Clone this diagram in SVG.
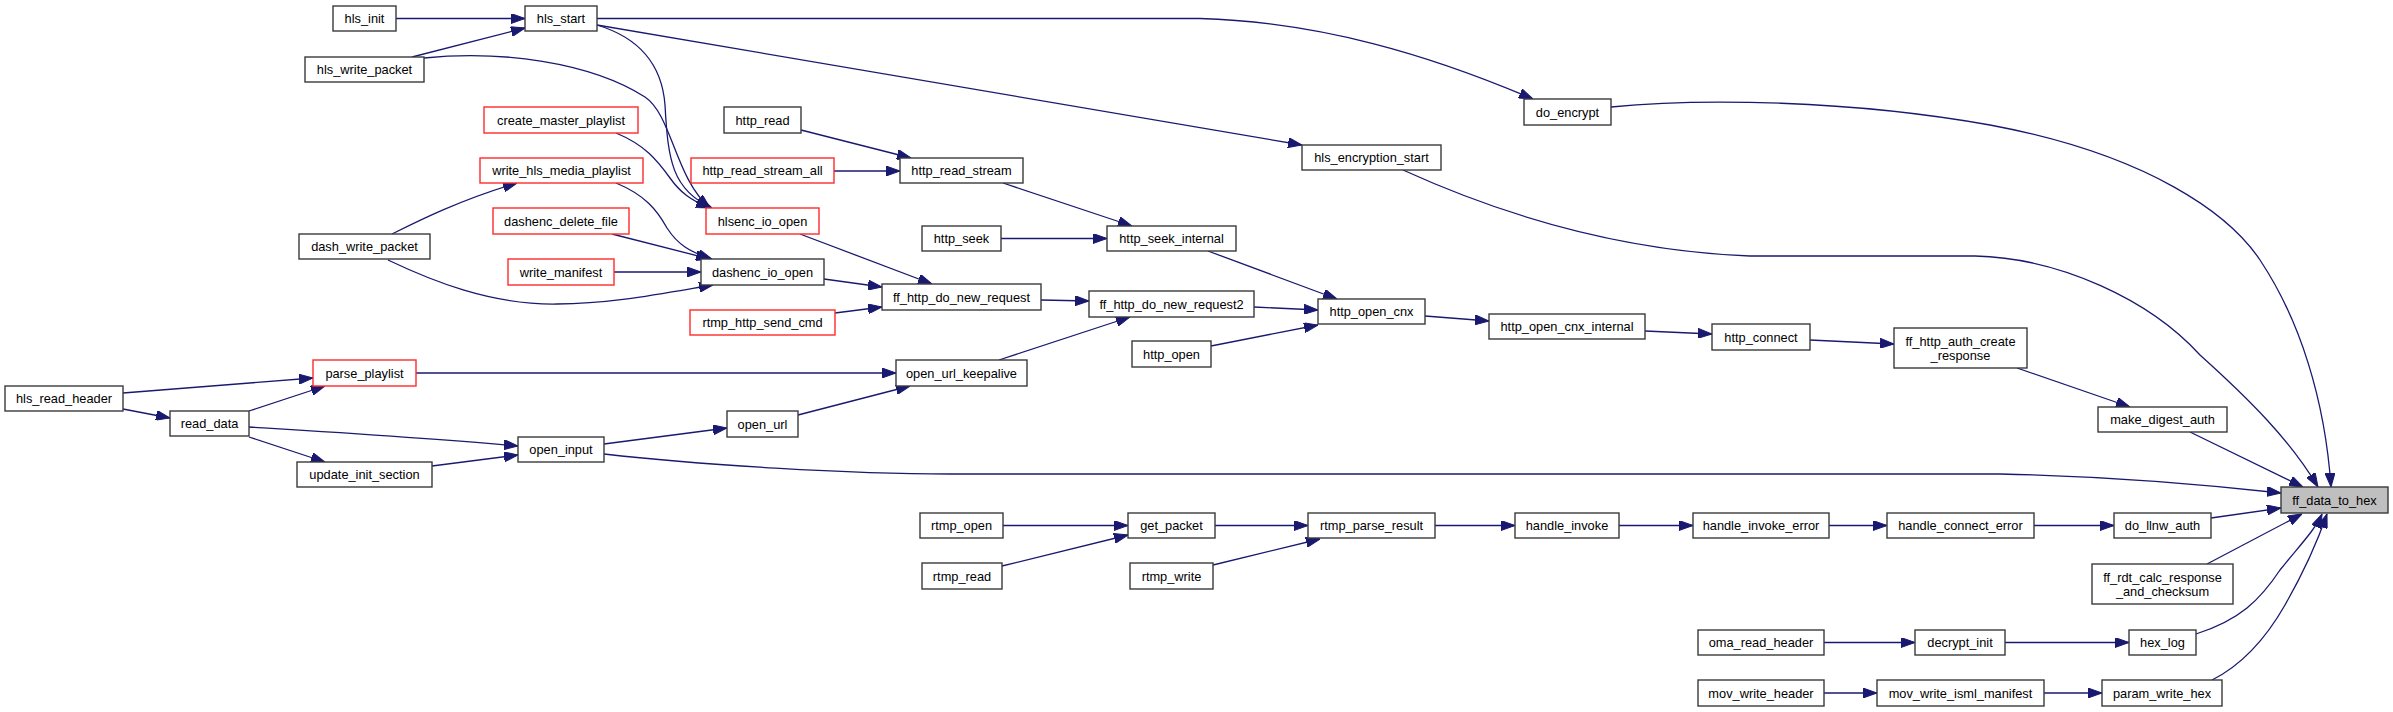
<svg xmlns="http://www.w3.org/2000/svg" width="2393" height="712" viewBox="0 0 2393 712">
<style>
.n rect{fill:#ffffff;stroke:#3a3a3a;stroke-width:1.4}
.r rect{stroke:#ff2a2a}
.g rect{fill:#bfbfbf}
.n text{font-family:"Liberation Sans",Arial,sans-serif;font-size:12.8px;fill:#000;text-anchor:middle}
#edges path{fill:none;stroke:#191970;stroke-width:1.3;marker-end:url(#ah)}
</style>
<defs>
<marker id="ah" markerUnits="userSpaceOnUse" markerWidth="14" markerHeight="10" refX="14" refY="5" orient="auto">
<path d="M0,0 L14,5 L0,10 z" fill="#191970" stroke="#191970" stroke-width="1"/>
</marker>
</defs>
<rect x="0" y="0" width="2393" height="712" fill="#ffffff"/>
<g id="edges">
<path d="M396,18.5 L525,18.5"/>
<path d="M412,57 L525,28"/>
<path d="M424,58 C500,50 590,62 645,97 C672,115 675,178 710,208"/>
<path d="M597,25 C640,38 662,65 665,105 C668,160 672,190 712,208"/>
<path d="M597,18.5 L1200,18.5 C1320,22 1430,55 1533,99"/>
<path d="M597,25 L1302,145"/>
<path d="M616,133 C645,145 657,160 670,178 C680,192 690,200 710,208"/>
<path d="M392,234 C420,220 460,200 517,183"/>
<path d="M616,183 C645,195 657,210 667,228 C678,245 690,252 712,259"/>
<path d="M612,234 L710,259"/>
<path d="M614,272 L701,272"/>
<path d="M388,260 C430,280 490,305 557,304 C610,304 660,294 713,285"/>
<path d="M801,130 L911,158"/>
<path d="M834,171 L900,171"/>
<path d="M1003,183 L1132,226"/>
<path d="M1001,238.5 L1107,238.5"/>
<path d="M800,234 L932,284"/>
<path d="M824,279 L882,287"/>
<path d="M835,313 L882,307"/>
<path d="M1041,300 L1089,301"/>
<path d="M999,360 L1130,317"/>
<path d="M1208,251 L1337,299"/>
<path d="M1254,307 L1318,310"/>
<path d="M1211,346 L1318,325"/>
<path d="M1425,316 L1489,321"/>
<path d="M1645,331 L1712,334"/>
<path d="M1810,340 L1894,344"/>
<path d="M2017,368 L2130,407"/>
<path d="M2190,432 L2303,487"/>
<path d="M1611,107 C1700,98 1850,100 1990,125 C2150,155 2230,215 2260,260 C2300,320 2325,400 2331,487"/>
<path d="M1403,170 C1480,205 1600,250 1750,256 L1975,256 C2060,258 2150,300 2200,355 C2250,400 2290,440 2318,487"/>
<path d="M604,454 C700,465 850,474 950,474 L2000,474 C2100,476 2200,484 2281,493"/>
<path d="M2211,518 L2281,508"/>
<path d="M2207,564 L2302,514"/>
<path d="M2196,634 C2240,620 2260,600 2280,570 C2300,545 2315,530 2322,514"/>
<path d="M2212,680 C2240,666 2265,640 2285,605 C2305,570 2318,540 2327,514"/>
<path d="M2034,525.5 L2114,525.5"/>
<path d="M1829,525.5 L1887,525.5"/>
<path d="M1619,525.5 L1693,525.5"/>
<path d="M1435,525.5 L1515,525.5"/>
<path d="M1215,525.5 L1308,525.5"/>
<path d="M1213,565 L1320,539"/>
<path d="M1003,525.5 L1128,525.5"/>
<path d="M1002,566 L1128,535"/>
<path d="M2005,642.5 L2129,642.5"/>
<path d="M1824,642.5 L1915,642.5"/>
<path d="M2044,693 L2102,693"/>
<path d="M1824,693 L1877,693"/>
<path d="M123,393 L313,378"/>
<path d="M123,409 L170,418"/>
<path d="M249,411 L325,386"/>
<path d="M249,427 C330,432 430,438 518,446"/>
<path d="M249,437 L325,462"/>
<path d="M432,466 L518,455"/>
<path d="M416,373 L896,373"/>
<path d="M604,444 L727,428"/>
<path d="M798,415 L910,386"/>
</g>
<g id="hls_init" class="n"><rect x="333" y="6" width="63" height="25"/><text x="364.5" y="23">hls_init</text></g>
<g id="hls_start" class="n"><rect x="525" y="6" width="72" height="25"/><text x="561" y="23">hls_start</text></g>
<g id="hls_write_packet" class="n"><rect x="305" y="57" width="119" height="25"/><text x="364.5" y="74">hls_write_packet</text></g>
<g id="dash_write_packet" class="n"><rect x="299" y="234" width="131" height="25"/><text x="364.5" y="251">dash_write_packet</text></g>
<g id="hls_read_header" class="n"><rect x="5" y="386" width="118" height="25"/><text x="64" y="403">hls_read_header</text></g>
<g id="read_data" class="n"><rect x="170" y="411" width="79" height="25"/><text x="209.5" y="428">read_data</text></g>
<g id="parse_playlist" class="n r"><rect x="313" y="360" width="103" height="26"/><text x="364.5" y="377.5">parse_playlist</text></g>
<g id="update_init_section" class="n"><rect x="297" y="462" width="135" height="25"/><text x="364.5" y="479">update_init_section</text></g>
<g id="create_master_playlist" class="n r"><rect x="484" y="107" width="154" height="26"/><text x="561" y="124.5">create_master_playlist</text></g>
<g id="write_hls_media_playlist" class="n r"><rect x="480" y="158" width="163" height="25"/><text x="561.5" y="175">write_hls_media_playlist</text></g>
<g id="dashenc_delete_file" class="n r"><rect x="493" y="208" width="136" height="26"/><text x="561" y="225.5">dashenc_delete_file</text></g>
<g id="write_manifest" class="n r"><rect x="508" y="259" width="106" height="26"/><text x="561" y="276.5">write_manifest</text></g>
<g id="open_input" class="n"><rect x="518" y="437" width="86" height="25"/><text x="561" y="454">open_input</text></g>
<g id="http_read" class="n"><rect x="724" y="107" width="77" height="26"/><text x="762.5" y="124.5">http_read</text></g>
<g id="http_read_stream_all" class="n r"><rect x="691" y="158" width="143" height="25"/><text x="762.5" y="175">http_read_stream_all</text></g>
<g id="hlsenc_io_open" class="n r"><rect x="706" y="208" width="113" height="26"/><text x="762.5" y="225.5">hlsenc_io_open</text></g>
<g id="dashenc_io_open" class="n"><rect x="701" y="259" width="123" height="26"/><text x="762.5" y="276.5">dashenc_io_open</text></g>
<g id="rtmp_http_send_cmd" class="n r"><rect x="690" y="310" width="145" height="25"/><text x="762.5" y="327">rtmp_http_send_cmd</text></g>
<g id="open_url" class="n"><rect x="727" y="411" width="71" height="26"/><text x="762.5" y="428.5">open_url</text></g>
<g id="http_read_stream" class="n"><rect x="900" y="158" width="123" height="25"/><text x="961.5" y="175">http_read_stream</text></g>
<g id="http_seek" class="n"><rect x="922" y="226" width="79" height="25"/><text x="961.5" y="243">http_seek</text></g>
<g id="http_seek_internal" class="n"><rect x="1107" y="226" width="129" height="25"/><text x="1171.5" y="243">http_seek_internal</text></g>
<g id="ff_http_do_new_request" class="n"><rect x="882" y="284" width="159" height="26"/><text x="961.5" y="301.5">ff_http_do_new_request</text></g>
<g id="ff_http_do_new_request2" class="n"><rect x="1089" y="291" width="165" height="26"/><text x="1171.5" y="308.5">ff_http_do_new_request2</text></g>
<g id="http_open" class="n"><rect x="1132" y="341" width="79" height="26"/><text x="1171.5" y="358.5">http_open</text></g>
<g id="open_url_keepalive" class="n"><rect x="896" y="360" width="131" height="26"/><text x="961.5" y="377.5">open_url_keepalive</text></g>
<g id="rtmp_open" class="n"><rect x="920" y="513" width="83" height="25"/><text x="961.5" y="530">rtmp_open</text></g>
<g id="rtmp_read" class="n"><rect x="922" y="563" width="80" height="26"/><text x="962" y="580.5">rtmp_read</text></g>
<g id="get_packet" class="n"><rect x="1128" y="513" width="87" height="25"/><text x="1171.5" y="530">get_packet</text></g>
<g id="rtmp_write" class="n"><rect x="1130" y="563" width="83" height="26"/><text x="1171.5" y="580.5">rtmp_write</text></g>
<g id="do_encrypt" class="n"><rect x="1524" y="99" width="87" height="26"/><text x="1567.5" y="116.5">do_encrypt</text></g>
<g id="hls_encryption_start" class="n"><rect x="1302" y="145" width="139" height="25"/><text x="1371.5" y="162">hls_encryption_start</text></g>
<g id="http_open_cnx" class="n"><rect x="1318" y="299" width="107" height="25"/><text x="1371.5" y="316">http_open_cnx</text></g>
<g id="http_open_cnx_internal" class="n"><rect x="1489" y="314" width="156" height="25"/><text x="1567" y="331">http_open_cnx_internal</text></g>
<g id="rtmp_parse_result" class="n"><rect x="1308" y="513" width="127" height="25"/><text x="1371.5" y="530">rtmp_parse_result</text></g>
<g id="handle_invoke" class="n"><rect x="1515" y="513" width="104" height="25"/><text x="1567" y="530">handle_invoke</text></g>
<g id="http_connect" class="n"><rect x="1712" y="324" width="98" height="26"/><text x="1761" y="341.5">http_connect</text></g>
<g id="ff_http_auth_create_response" class="n"><rect x="1894" y="328" width="133" height="40"/><text x="1960.5" y="345.5">ff_http_auth_create</text><text x="1960.5" y="359.5">_response</text></g>
<g id="handle_invoke_error" class="n"><rect x="1693" y="513" width="136" height="25"/><text x="1761" y="530">handle_invoke_error</text></g>
<g id="handle_connect_error" class="n"><rect x="1887" y="513" width="147" height="25"/><text x="1960.5" y="530">handle_connect_error</text></g>
<g id="oma_read_header" class="n"><rect x="1698" y="630" width="126" height="25"/><text x="1761" y="647">oma_read_header</text></g>
<g id="decrypt_init" class="n"><rect x="1915" y="630" width="90" height="25"/><text x="1960" y="647">decrypt_init</text></g>
<g id="mov_write_header" class="n"><rect x="1698" y="680" width="126" height="26"/><text x="1761" y="697.5">mov_write_header</text></g>
<g id="mov_write_isml_manifest" class="n"><rect x="1877" y="680" width="167" height="26"/><text x="1960.5" y="697.5">mov_write_isml_manifest</text></g>
<g id="make_digest_auth" class="n"><rect x="2098" y="407" width="129" height="25"/><text x="2162.5" y="424">make_digest_auth</text></g>
<g id="ff_data_to_hex" class="n g"><rect x="2281" y="487" width="107" height="26"/><text x="2334.5" y="504.5">ff_data_to_hex</text></g>
<g id="do_llnw_auth" class="n"><rect x="2114" y="513" width="97" height="25"/><text x="2162.5" y="530">do_llnw_auth</text></g>
<g id="ff_rdt_calc_response_and_checksum" class="n"><rect x="2092" y="564" width="141" height="40"/><text x="2162.5" y="581.5">ff_rdt_calc_response</text><text x="2162.5" y="595.5">_and_checksum</text></g>
<g id="hex_log" class="n"><rect x="2129" y="630" width="67" height="25"/><text x="2162.5" y="647">hex_log</text></g>
<g id="param_write_hex" class="n"><rect x="2102" y="680" width="120" height="26"/><text x="2162" y="697.5">param_write_hex</text></g>
</svg>
